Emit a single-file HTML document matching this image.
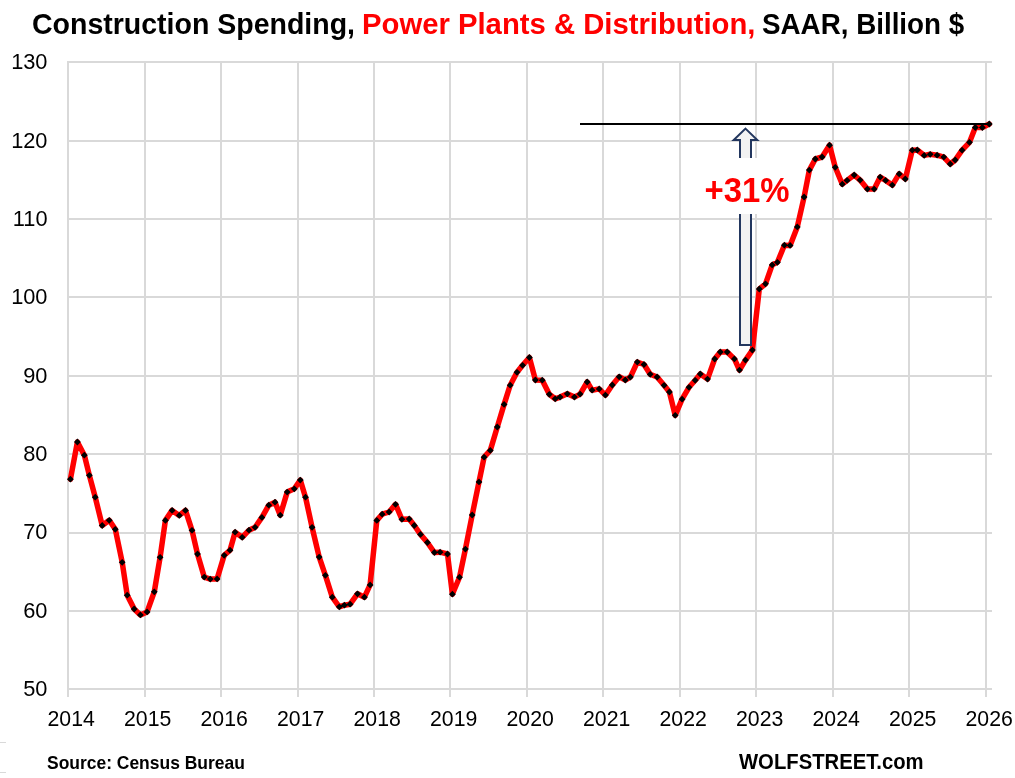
<!DOCTYPE html>
<html><head><meta charset="utf-8"><style>
html,body{margin:0;padding:0;background:#fff;}
body{width:1015px;height:778px;overflow:hidden;position:relative;}
svg{position:absolute;left:0;top:0;will-change:transform;}
text{font-family:"Liberation Sans",sans-serif;}
</style></head><body>
<svg width="1015" height="778" viewBox="0 0 1015 778">
<rect x="0" y="0" width="1015" height="778" fill="#fff"/>

<rect x="0" y="742" width="6" height="1" fill="#d9d9d9"/>
<rect x="0" y="772" width="6" height="1" fill="#d9d9d9"/>
<rect x="67" y="61" width="925" height="2" fill="#d9d9d9"/>
<rect x="67" y="140" width="925" height="2" fill="#d9d9d9"/>
<rect x="67" y="218" width="925" height="2" fill="#d9d9d9"/>
<rect x="67" y="296" width="925" height="2" fill="#d9d9d9"/>
<rect x="67" y="375" width="925" height="2" fill="#d9d9d9"/>
<rect x="67" y="453" width="925" height="2" fill="#d9d9d9"/>
<rect x="67" y="532" width="925" height="2" fill="#d9d9d9"/>
<rect x="67" y="610" width="925" height="2" fill="#d9d9d9"/>
<rect x="67" y="688" width="925" height="2" fill="#d9d9d9"/>
<rect x="67" y="61" width="2" height="636" fill="#d9d9d9"/>
<rect x="144" y="61" width="2" height="636" fill="#d9d9d9"/>
<rect x="220" y="61" width="2" height="636" fill="#d9d9d9"/>
<rect x="297" y="61" width="2" height="636" fill="#d9d9d9"/>
<rect x="373" y="61" width="2" height="636" fill="#d9d9d9"/>
<rect x="449" y="61" width="2" height="636" fill="#d9d9d9"/>
<rect x="526" y="61" width="2" height="636" fill="#d9d9d9"/>
<rect x="602" y="61" width="2" height="636" fill="#d9d9d9"/>
<rect x="679" y="61" width="2" height="636" fill="#d9d9d9"/>
<rect x="755" y="61" width="2" height="636" fill="#d9d9d9"/>
<rect x="832" y="61" width="2" height="636" fill="#d9d9d9"/>
<rect x="908" y="61" width="2" height="636" fill="#d9d9d9"/>
<rect x="985" y="61" width="2" height="636" fill="#d9d9d9"/>
<text x="47.5" y="69.20" font-size="21.8" text-anchor="end" fill="#000">130</text>
<text x="47.5" y="147.57" font-size="21.8" text-anchor="end" fill="#000">120</text>
<text x="47.5" y="225.95" font-size="21.8" text-anchor="end" fill="#000">110</text>
<text x="47.5" y="304.32" font-size="21.8" text-anchor="end" fill="#000">100</text>
<text x="47.5" y="382.70" font-size="21.8" text-anchor="end" fill="#000">90</text>
<text x="47.5" y="461.07" font-size="21.8" text-anchor="end" fill="#000">80</text>
<text x="47.5" y="539.45" font-size="21.8" text-anchor="end" fill="#000">70</text>
<text x="47.5" y="617.83" font-size="21.8" text-anchor="end" fill="#000">60</text>
<text x="47.5" y="696.20" font-size="21.8" text-anchor="end" fill="#000">50</text>
<text x="71.19" y="726" font-size="21.8" text-anchor="middle" textLength="47.3" lengthAdjust="spacingAndGlyphs" fill="#000">2014</text>
<text x="147.69" y="726" font-size="21.8" text-anchor="middle" textLength="47.3" lengthAdjust="spacingAndGlyphs" fill="#000">2015</text>
<text x="224.19" y="726" font-size="21.8" text-anchor="middle" textLength="47.3" lengthAdjust="spacingAndGlyphs" fill="#000">2016</text>
<text x="300.69" y="726" font-size="21.8" text-anchor="middle" textLength="47.3" lengthAdjust="spacingAndGlyphs" fill="#000">2017</text>
<text x="377.19" y="726" font-size="21.8" text-anchor="middle" textLength="47.3" lengthAdjust="spacingAndGlyphs" fill="#000">2018</text>
<text x="453.69" y="726" font-size="21.8" text-anchor="middle" textLength="47.3" lengthAdjust="spacingAndGlyphs" fill="#000">2019</text>
<text x="530.19" y="726" font-size="21.8" text-anchor="middle" textLength="47.3" lengthAdjust="spacingAndGlyphs" fill="#000">2020</text>
<text x="606.69" y="726" font-size="21.8" text-anchor="middle" textLength="47.3" lengthAdjust="spacingAndGlyphs" fill="#000">2021</text>
<text x="683.19" y="726" font-size="21.8" text-anchor="middle" textLength="47.3" lengthAdjust="spacingAndGlyphs" fill="#000">2022</text>
<text x="759.69" y="726" font-size="21.8" text-anchor="middle" textLength="47.3" lengthAdjust="spacingAndGlyphs" fill="#000">2023</text>
<text x="836.19" y="726" font-size="21.8" text-anchor="middle" textLength="47.3" lengthAdjust="spacingAndGlyphs" fill="#000">2024</text>
<text x="912.69" y="726" font-size="21.8" text-anchor="middle" textLength="47.3" lengthAdjust="spacingAndGlyphs" fill="#000">2025</text>
<text x="989.19" y="726" font-size="21.8" text-anchor="middle" textLength="47.3" lengthAdjust="spacingAndGlyphs" fill="#000">2026</text>
<polyline points="70.40,479.20 77.40,442.00 84.35,455.20 89.36,475.30 95.25,497.20 102.20,525.50 109.25,520.30 115.30,529.30 122.20,562.30 127.20,595.20 134.20,609.00 140.40,614.90 147.10,611.90 154.30,591.80 160.10,557.30 165.40,520.40 172.10,510.40 179.30,515.40 185.50,510.40 192.00,530.30 197.50,554.00 204.30,577.10 210.30,579.10 217.10,578.90 224.20,555.30 230.00,550.20 235.10,532.20 242.20,537.30 249.00,530.20 255.10,527.30 261.90,517.40 268.80,505.20 275.00,502.20 280.25,515.20 287.20,492.10 294.30,488.80 300.30,480.10 305.50,497.20 312.10,527.30 319.20,557.10 325.40,575.30 332.30,597.20 339.30,606.80 344.40,605.20 350.10,604.20 357.50,593.80 364.40,597.20 370.10,584.90 376.80,520.40 382.20,514.20 389.10,512.00 395.55,504.30 401.90,519.30 409.20,519.00 414.30,525.50 420.50,534.40 427.40,542.50 434.40,552.50 440.10,552.20 447.50,554.00 452.40,594.20 459.50,577.20 465.40,549.10 472.20,515.00 479.00,481.90 484.10,457.20 490.30,450.40 497.30,427.00 504.10,404.40 510.20,385.20 517.00,372.30 522.60,365.30 529.40,357.50 535.40,380.00 542.25,380.20 549.30,394.30 555.20,398.80 560.10,397.10 567.30,393.80 574.40,397.10 580.10,394.10 587.20,382.00 592.10,390.20 599.20,388.90 605.40,395.10 612.30,385.00 619.20,376.80 625.30,380.00 630.35,377.10 637.30,362.10 644.00,364.50 650.20,374.30 657.10,377.00 664.10,385.30 669.40,392.00 675.20,415.30 682.10,399.20 689.00,387.30 695.20,380.30 700.30,374.00 707.50,379.10 714.70,359.00 720.30,352.00 727.20,352.00 734.40,358.90 739.50,370.10 745.50,360.10 752.40,350.10 759.30,289.00 765.50,283.80 772.20,264.90 777.40,262.30 784.40,245.20 790.10,245.40 797.30,226.90 804.10,197.00 809.35,170.10 815.30,159.00 822.10,157.00 829.55,145.20 835.25,167.30 842.30,184.20 847.10,180.40 854.20,175.00 860.10,180.10 867.40,189.10 874.20,189.10 880.20,177.10 885.60,180.40 892.30,185.10 899.20,173.90 905.30,179.00 912.30,150.20 917.30,150.00 924.20,155.40 930.20,154.30 937.10,155.20 943.80,157.10 950.20,164.00 955.20,160.00 962.10,150.20 969.50,142.30 975.30,127.50 982.35,127.50 989.30,124.00" fill="none" stroke="#ff0000" stroke-width="5.5" stroke-linejoin="round" stroke-linecap="round"/>
<rect x="580" y="123" width="410" height="2" fill="#000"/>
<path d="M70.40 475.80L73.80 479.20L70.40 482.60L67.00 479.20ZM77.40 438.60L80.80 442.00L77.40 445.40L74.00 442.00ZM84.35 451.80L87.75 455.20L84.35 458.60L80.95 455.20ZM89.36 471.90L92.76 475.30L89.36 478.70L85.96 475.30ZM95.25 493.80L98.65 497.20L95.25 500.60L91.85 497.20ZM102.20 522.10L105.60 525.50L102.20 528.90L98.80 525.50ZM109.25 516.90L112.65 520.30L109.25 523.70L105.85 520.30ZM115.30 525.90L118.70 529.30L115.30 532.70L111.90 529.30ZM122.20 558.90L125.60 562.30L122.20 565.70L118.80 562.30ZM127.20 591.80L130.60 595.20L127.20 598.60L123.80 595.20ZM134.20 605.60L137.60 609.00L134.20 612.40L130.80 609.00ZM140.40 611.50L143.80 614.90L140.40 618.30L137.00 614.90ZM147.10 608.50L150.50 611.90L147.10 615.30L143.70 611.90ZM154.30 588.40L157.70 591.80L154.30 595.20L150.90 591.80ZM160.10 553.90L163.50 557.30L160.10 560.70L156.70 557.30ZM165.40 517.00L168.80 520.40L165.40 523.80L162.00 520.40ZM172.10 507.00L175.50 510.40L172.10 513.80L168.70 510.40ZM179.30 512.00L182.70 515.40L179.30 518.80L175.90 515.40ZM185.50 507.00L188.90 510.40L185.50 513.80L182.10 510.40ZM192.00 526.90L195.40 530.30L192.00 533.70L188.60 530.30ZM197.50 550.60L200.90 554.00L197.50 557.40L194.10 554.00ZM204.30 573.70L207.70 577.10L204.30 580.50L200.90 577.10ZM210.30 575.70L213.70 579.10L210.30 582.50L206.90 579.10ZM217.10 575.50L220.50 578.90L217.10 582.30L213.70 578.90ZM224.20 551.90L227.60 555.30L224.20 558.70L220.80 555.30ZM230.00 546.80L233.40 550.20L230.00 553.60L226.60 550.20ZM235.10 528.80L238.50 532.20L235.10 535.60L231.70 532.20ZM242.20 533.90L245.60 537.30L242.20 540.70L238.80 537.30ZM249.00 526.80L252.40 530.20L249.00 533.60L245.60 530.20ZM255.10 523.90L258.50 527.30L255.10 530.70L251.70 527.30ZM261.90 514.00L265.30 517.40L261.90 520.80L258.50 517.40ZM268.80 501.80L272.20 505.20L268.80 508.60L265.40 505.20ZM275.00 498.80L278.40 502.20L275.00 505.60L271.60 502.20ZM280.25 511.80L283.65 515.20L280.25 518.60L276.85 515.20ZM287.20 488.70L290.60 492.10L287.20 495.50L283.80 492.10ZM294.30 485.40L297.70 488.80L294.30 492.20L290.90 488.80ZM300.30 476.70L303.70 480.10L300.30 483.50L296.90 480.10ZM305.50 493.80L308.90 497.20L305.50 500.60L302.10 497.20ZM312.10 523.90L315.50 527.30L312.10 530.70L308.70 527.30ZM319.20 553.70L322.60 557.10L319.20 560.50L315.80 557.10ZM325.40 571.90L328.80 575.30L325.40 578.70L322.00 575.30ZM332.30 593.80L335.70 597.20L332.30 600.60L328.90 597.20ZM339.30 603.40L342.70 606.80L339.30 610.20L335.90 606.80ZM344.40 601.80L347.80 605.20L344.40 608.60L341.00 605.20ZM350.10 600.80L353.50 604.20L350.10 607.60L346.70 604.20ZM357.50 590.40L360.90 593.80L357.50 597.20L354.10 593.80ZM364.40 593.80L367.80 597.20L364.40 600.60L361.00 597.20ZM370.10 581.50L373.50 584.90L370.10 588.30L366.70 584.90ZM376.80 517.00L380.20 520.40L376.80 523.80L373.40 520.40ZM382.20 510.80L385.60 514.20L382.20 517.60L378.80 514.20ZM389.10 508.60L392.50 512.00L389.10 515.40L385.70 512.00ZM395.55 500.90L398.95 504.30L395.55 507.70L392.15 504.30ZM401.90 515.90L405.30 519.30L401.90 522.70L398.50 519.30ZM409.20 515.60L412.60 519.00L409.20 522.40L405.80 519.00ZM414.30 522.10L417.70 525.50L414.30 528.90L410.90 525.50ZM420.50 531.00L423.90 534.40L420.50 537.80L417.10 534.40ZM427.40 539.10L430.80 542.50L427.40 545.90L424.00 542.50ZM434.40 549.10L437.80 552.50L434.40 555.90L431.00 552.50ZM440.10 548.80L443.50 552.20L440.10 555.60L436.70 552.20ZM447.50 550.60L450.90 554.00L447.50 557.40L444.10 554.00ZM452.40 590.80L455.80 594.20L452.40 597.60L449.00 594.20ZM459.50 573.80L462.90 577.20L459.50 580.60L456.10 577.20ZM465.40 545.70L468.80 549.10L465.40 552.50L462.00 549.10ZM472.20 511.60L475.60 515.00L472.20 518.40L468.80 515.00ZM479.00 478.50L482.40 481.90L479.00 485.30L475.60 481.90ZM484.10 453.80L487.50 457.20L484.10 460.60L480.70 457.20ZM490.30 447.00L493.70 450.40L490.30 453.80L486.90 450.40ZM497.30 423.60L500.70 427.00L497.30 430.40L493.90 427.00ZM504.10 401.00L507.50 404.40L504.10 407.80L500.70 404.40ZM510.20 381.80L513.60 385.20L510.20 388.60L506.80 385.20ZM517.00 368.90L520.40 372.30L517.00 375.70L513.60 372.30ZM522.60 361.90L526.00 365.30L522.60 368.70L519.20 365.30ZM529.40 354.10L532.80 357.50L529.40 360.90L526.00 357.50ZM535.40 376.60L538.80 380.00L535.40 383.40L532.00 380.00ZM542.25 376.80L545.65 380.20L542.25 383.60L538.85 380.20ZM549.30 390.90L552.70 394.30L549.30 397.70L545.90 394.30ZM555.20 395.40L558.60 398.80L555.20 402.20L551.80 398.80ZM560.10 393.70L563.50 397.10L560.10 400.50L556.70 397.10ZM567.30 390.40L570.70 393.80L567.30 397.20L563.90 393.80ZM574.40 393.70L577.80 397.10L574.40 400.50L571.00 397.10ZM580.10 390.70L583.50 394.10L580.10 397.50L576.70 394.10ZM587.20 378.60L590.60 382.00L587.20 385.40L583.80 382.00ZM592.10 386.80L595.50 390.20L592.10 393.60L588.70 390.20ZM599.20 385.50L602.60 388.90L599.20 392.30L595.80 388.90ZM605.40 391.70L608.80 395.10L605.40 398.50L602.00 395.10ZM612.30 381.60L615.70 385.00L612.30 388.40L608.90 385.00ZM619.20 373.40L622.60 376.80L619.20 380.20L615.80 376.80ZM625.30 376.60L628.70 380.00L625.30 383.40L621.90 380.00ZM630.35 373.70L633.75 377.10L630.35 380.50L626.95 377.10ZM637.30 358.70L640.70 362.10L637.30 365.50L633.90 362.10ZM644.00 361.10L647.40 364.50L644.00 367.90L640.60 364.50ZM650.20 370.90L653.60 374.30L650.20 377.70L646.80 374.30ZM657.10 373.60L660.50 377.00L657.10 380.40L653.70 377.00ZM664.10 381.90L667.50 385.30L664.10 388.70L660.70 385.30ZM669.40 388.60L672.80 392.00L669.40 395.40L666.00 392.00ZM675.20 411.90L678.60 415.30L675.20 418.70L671.80 415.30ZM682.10 395.80L685.50 399.20L682.10 402.60L678.70 399.20ZM689.00 383.90L692.40 387.30L689.00 390.70L685.60 387.30ZM695.20 376.90L698.60 380.30L695.20 383.70L691.80 380.30ZM700.30 370.60L703.70 374.00L700.30 377.40L696.90 374.00ZM707.50 375.70L710.90 379.10L707.50 382.50L704.10 379.10ZM714.70 355.60L718.10 359.00L714.70 362.40L711.30 359.00ZM720.30 348.60L723.70 352.00L720.30 355.40L716.90 352.00ZM727.20 348.60L730.60 352.00L727.20 355.40L723.80 352.00ZM734.40 355.50L737.80 358.90L734.40 362.30L731.00 358.90ZM739.50 366.70L742.90 370.10L739.50 373.50L736.10 370.10ZM745.50 356.70L748.90 360.10L745.50 363.50L742.10 360.10ZM752.40 346.70L755.80 350.10L752.40 353.50L749.00 350.10ZM759.30 285.60L762.70 289.00L759.30 292.40L755.90 289.00ZM765.50 280.40L768.90 283.80L765.50 287.20L762.10 283.80ZM772.20 261.50L775.60 264.90L772.20 268.30L768.80 264.90ZM777.40 258.90L780.80 262.30L777.40 265.70L774.00 262.30ZM784.40 241.80L787.80 245.20L784.40 248.60L781.00 245.20ZM790.10 242.00L793.50 245.40L790.10 248.80L786.70 245.40ZM797.30 223.50L800.70 226.90L797.30 230.30L793.90 226.90ZM804.10 193.60L807.50 197.00L804.10 200.40L800.70 197.00ZM809.35 166.70L812.75 170.10L809.35 173.50L805.95 170.10ZM815.30 155.60L818.70 159.00L815.30 162.40L811.90 159.00ZM822.10 153.60L825.50 157.00L822.10 160.40L818.70 157.00ZM829.55 141.80L832.95 145.20L829.55 148.60L826.15 145.20ZM835.25 163.90L838.65 167.30L835.25 170.70L831.85 167.30ZM842.30 180.80L845.70 184.20L842.30 187.60L838.90 184.20ZM847.10 177.00L850.50 180.40L847.10 183.80L843.70 180.40ZM854.20 171.60L857.60 175.00L854.20 178.40L850.80 175.00ZM860.10 176.70L863.50 180.10L860.10 183.50L856.70 180.10ZM867.40 185.70L870.80 189.10L867.40 192.50L864.00 189.10ZM874.20 185.70L877.60 189.10L874.20 192.50L870.80 189.10ZM880.20 173.70L883.60 177.10L880.20 180.50L876.80 177.10ZM885.60 177.00L889.00 180.40L885.60 183.80L882.20 180.40ZM892.30 181.70L895.70 185.10L892.30 188.50L888.90 185.10ZM899.20 170.50L902.60 173.90L899.20 177.30L895.80 173.90ZM905.30 175.60L908.70 179.00L905.30 182.40L901.90 179.00ZM912.30 146.80L915.70 150.20L912.30 153.60L908.90 150.20ZM917.30 146.60L920.70 150.00L917.30 153.40L913.90 150.00ZM924.20 152.00L927.60 155.40L924.20 158.80L920.80 155.40ZM930.20 150.90L933.60 154.30L930.20 157.70L926.80 154.30ZM937.10 151.80L940.50 155.20L937.10 158.60L933.70 155.20ZM943.80 153.70L947.20 157.10L943.80 160.50L940.40 157.10ZM950.20 160.60L953.60 164.00L950.20 167.40L946.80 164.00ZM955.20 156.60L958.60 160.00L955.20 163.40L951.80 160.00ZM962.10 146.80L965.50 150.20L962.10 153.60L958.70 150.20ZM969.50 138.90L972.90 142.30L969.50 145.70L966.10 142.30ZM975.30 124.10L978.70 127.50L975.30 130.90L971.90 127.50ZM982.35 124.10L985.75 127.50L982.35 130.90L978.95 127.50ZM989.30 120.60L992.70 124.00L989.30 127.40L985.90 124.00Z" fill="#000"/>
<path d="M745.5 128.6L757.3 140L751 140L751 345L740 345L740 140L733.7 140Z" fill="#f2f2f2" stroke="#23375f" stroke-width="2" stroke-linejoin="miter"/>
<rect x="700" y="158" width="95" height="56" fill="#fff"/>
<text x="704.6" y="201.8" font-size="35.3" font-weight="bold" fill="#ff0000" textLength="85" lengthAdjust="spacingAndGlyphs">+31%</text>
<text x="32" y="34" font-size="30" font-weight="bold" fill="#000" textLength="323" lengthAdjust="spacingAndGlyphs">Construction Spending,</text>
<text x="362" y="34" font-size="30" font-weight="bold" fill="#ff0000" textLength="393.5" lengthAdjust="spacingAndGlyphs">Power Plants &amp; Distribution,</text>
<text x="762" y="34" font-size="30" font-weight="bold" fill="#000" textLength="202.2" lengthAdjust="spacingAndGlyphs">SAAR, Billion $</text>
<text x="47" y="768.7" font-size="18.4" font-weight="bold" fill="#000" textLength="197.8" lengthAdjust="spacingAndGlyphs">Source: Census Bureau</text>
<text x="739" y="768.6" font-size="22.8" font-weight="bold" fill="#000" textLength="184.6" lengthAdjust="spacingAndGlyphs">WOLFSTREET.com</text>
</svg></body></html>
